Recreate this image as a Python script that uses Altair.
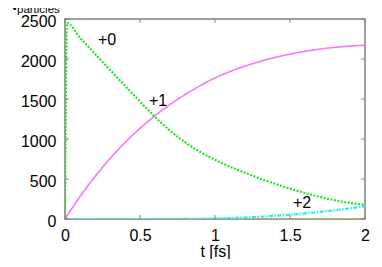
import altair as alt
import pandas as pd

# time grid [fs]
t_green = [0, 0.013, 0.1, 0.2, 0.3, 0.4, 0.5, 0.6, 0.7, 0.8, 0.9, 1.0, 1.1, 1.2, 1.3, 1.4, 1.5, 1.6, 1.7, 1.8, 1.9, 2.0]
n_plus0 = [0, 2450, 2265, 2065, 1865, 1665, 1468, 1275, 1105, 960, 840, 740, 655, 578, 506, 440, 380, 325, 276, 234, 201, 177]

t_grid = [0, 0.1, 0.2, 0.3, 0.4, 0.5, 0.6, 0.7, 0.8, 0.9, 1.0, 1.1, 1.2, 1.3, 1.4, 1.5, 1.6, 1.7, 1.8, 1.9, 2.0]
n_plus1 = [0, 280, 530, 755, 955, 1133, 1291, 1431, 1555, 1665, 1763, 1843, 1911, 1969, 2019, 2061, 2096, 2124, 2146, 2162, 2172]
n_plus2 = [0, 0, 0, 0, 0, 0, 0, 0, 1, 3, 7, 12, 19, 28, 40, 54, 71, 89, 110, 133, 158]
n_plus3 = [0, 0, 0, 0, 0, 0, 0, 0, 0, 0, 0, 0, 0, 0, 0, 0, 0, 1, 1, 2, 3]

label_text = ["+0", "+1", "+2"]
label_t = [0.28, 0.62, 1.58]
label_n = [2240, 1470, 200]

x_ticks = [0, 0.5, 1, 1.5, 2]
y_ticks = [0, 500, 1000, 1500, 2000, 2500]

FONT = "Liberation Sans"

xs = alt.Scale(domain=[0, 2], nice=False)
ys = alt.Scale(domain=[0, 2500], nice=False)

x_axis = alt.Axis(values=x_ticks, format="~g", ticks=False, domain=False, grid=False,
                  labelFlush=False, labelOverlap=False,
                  title="t [fs]", labelFont=FONT, labelFontSize=16, labelColor="black",
                  labelPadding=8, titleFont=FONT, titleFontSize=16, titleFontWeight="normal",
                  titleColor="black", titlePadding=0)
y_axis = alt.Axis(values=y_ticks, format="d", ticks=False, domain=False, grid=False, title=None,
                  labelFlush=False, labelOverlap=False, labelOffset=2,
                  labelFont=FONT, labelFontSize=16, labelColor="black", labelPadding=9)

def X():
    return alt.X("t:Q", scale=xs, axis=x_axis)

def Y():
    return alt.Y("n:Q", scale=ys, axis=y_axis)

def line(t, n, color, dash, width):
    df = pd.DataFrame({"t": t, "n": n})
    return alt.Chart(df).mark_line(color=color, strokeDash=dash, strokeWidth=width,
                                   interpolate="monotone", clip=True).encode(x=X(), y=Y())

# inward ticks
xt = pd.DataFrame({"t": x_ticks})
yt = pd.DataFrame({"n": y_ticks})
tick_col = "#808080"
xt_bot = alt.Chart(xt).mark_rule(color=tick_col, strokeWidth=1).encode(
    x=X(), y=alt.value(200), y2=alt.value(196))
xt_top = alt.Chart(xt).mark_rule(color=tick_col, strokeWidth=1).encode(
    x=X(), y=alt.value(0), y2=alt.value(4))
yt_left = alt.Chart(yt).mark_rule(color=tick_col, strokeWidth=1).encode(
    y=Y(), x=alt.value(0), x2=alt.value(4))
yt_right = alt.Chart(yt).mark_rule(color=tick_col, strokeWidth=1).encode(
    y=Y(), x=alt.value(300), x2=alt.value(296))

g = line(t_green, n_plus0, "#22e022", [2, 1.5], 2.2)
m = line(t_grid, n_plus1, "#f777f7", [1, 0], 1.6)
c = line(t_grid, n_plus2, "#22eeee", [4, 1.5, 1.5, 1.5], 2.2)
yl = line(t_grid, n_plus3, "#d8d800", [1.5, 1.5], 1.5)

lab_df = pd.DataFrame({"t": label_t, "n": label_n, "label": label_text})
labels = alt.Chart(lab_df).mark_text(font=FONT, fontSize=16, color="black").encode(
    x=X(), y=Y(), text="label:N")

ytitle_N = alt.Chart(pd.DataFrame({"s": ["N"]})).mark_text(
    font=FONT, fontSize=17, color="black", align="left", baseline="alphabetic").encode(
    x=alt.value(-60), y=alt.value(-9), text="s:N")
ytitle_sub = alt.Chart(pd.DataFrame({"s": ["particles"]})).mark_text(
    font=FONT, fontSize=11.5, color="black", align="left", baseline="alphabetic").encode(
    x=alt.value(-48), y=alt.value(-6), text="s:N")

chart = alt.layer(yl, c, m, g, xt_bot, xt_top, yt_left, yt_right, labels, ytitle_N, ytitle_sub).properties(
    width=300, height=200,
    autosize=alt.AutoSizeParams(type="none"),
    padding={"left": 57, "top": 11, "right": 9, "bottom": 40},
    background="white",
).configure_view(stroke="#808080", strokeWidth=1.5)

chart.save("out.html", embed_options={"renderer": "svg", "actions": False})
